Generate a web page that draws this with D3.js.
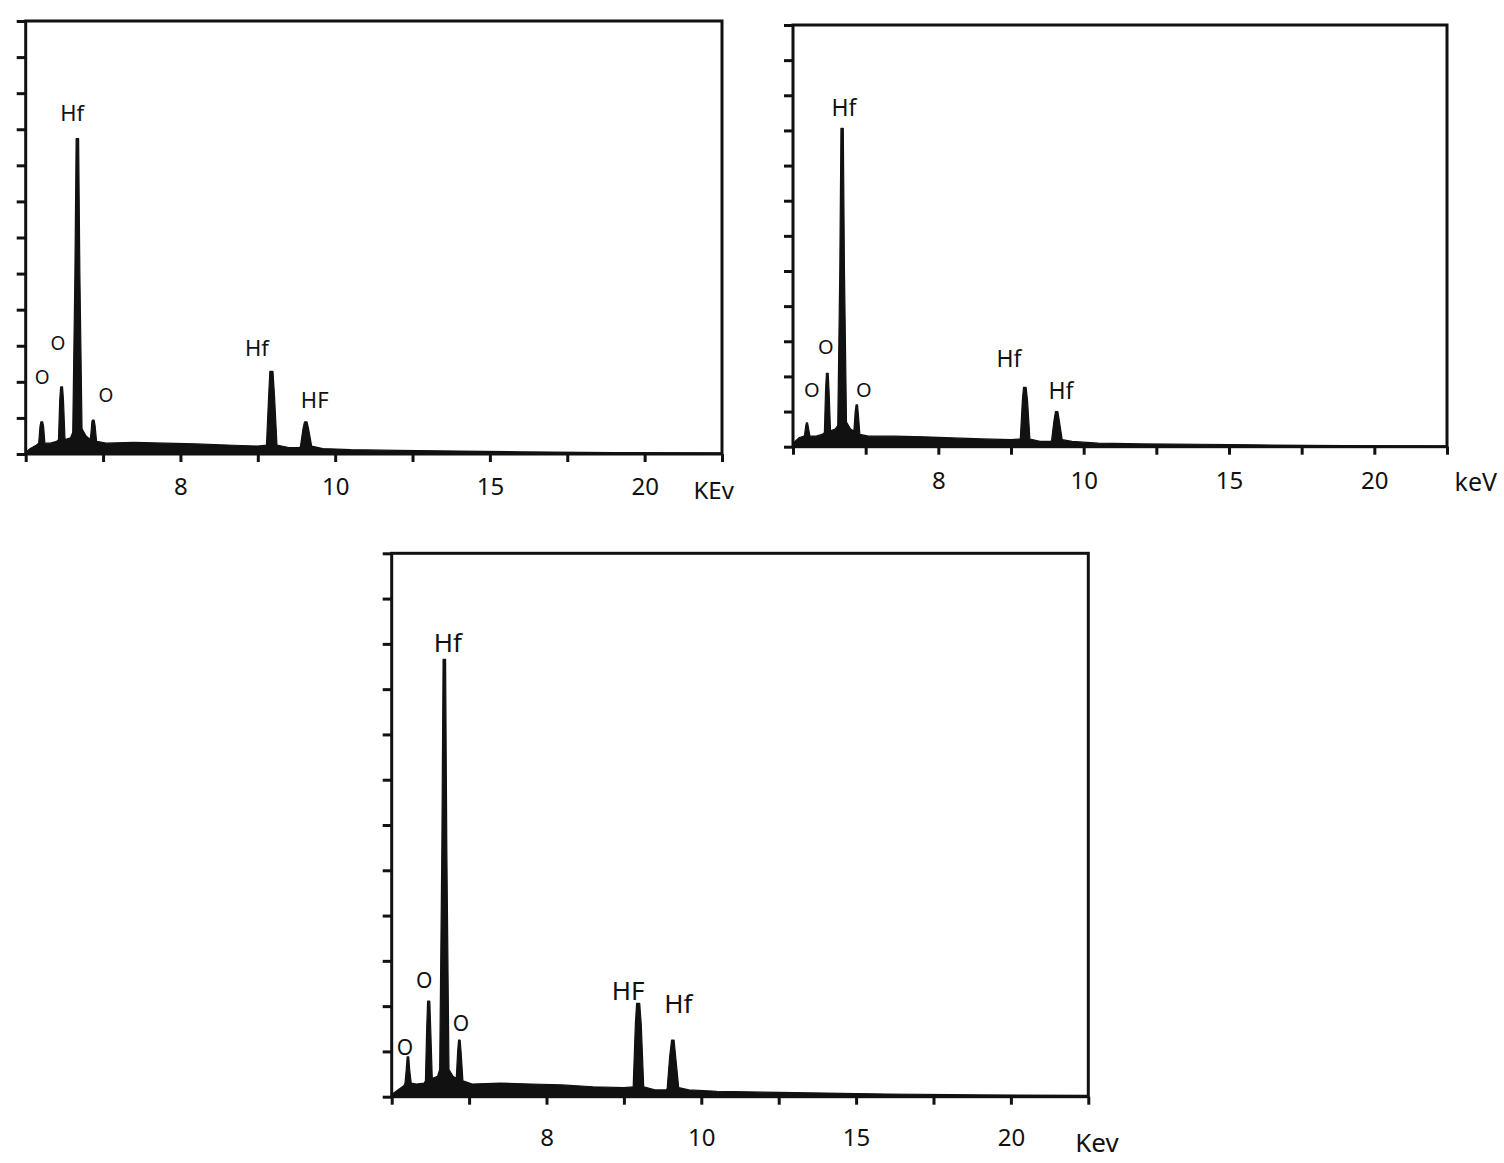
<!DOCTYPE html>
<html>
<head>
<meta charset="utf-8">
<script src="https://cdn.jsdelivr.net/npm/d3@7/dist/d3.min.js"></script>
<style>
  html, body { margin: 0; padding: 0; background: #fff; }
  svg { display: block; }
  text { font-family: "Noto Sans", "Open Sans", sans-serif; fill: #111; }
</style>
</head>
<body>
<svg id="chart" width="1504" height="1163"></svg>
<script>
// ---------------- DATA ----------------
// energy axis ticks (keV) and the tick labels printed in the figure
const energyTicks = [0, 2.5, 5, 7.5, 10, 12.5, 15, 17.5, 20, 22.5];
const labeledTickValues = [5, 10, 15, 20];
const labeledTickText = ["8", "10", "15", "20"];
const countTicks = [0, 1, 2, 3, 4, 5, 6, 7, 8, 9, 10, 11, 12];
const unitLabels = ["KEv", "keV", "Kev"];

// spectra: [energy keV, counts (tick units)]
const spectrumA = [
  [0,0.05],[0.15,0.15],[0.35,0.25],
  [0.42,0.3],[0.46,0.75],[0.49,0.89],[0.55,0.89],[0.58,0.75],[0.62,0.3],
  [0.8,0.3],[1.0,0.35],
  [1.06,0.4],[1.10,1.5],[1.13,1.86],[1.19,1.86],[1.22,1.5],[1.27,0.4],
  [1.45,0.45],
  [1.52,0.6],[1.59,5.0],[1.63,8.74],[1.71,8.74],[1.75,5.0],[1.82,0.7],
  [1.95,0.5],[2.08,0.4],
  [2.10,0.5],[2.14,0.9],[2.16,0.94],[2.21,0.94],[2.24,0.8],[2.29,0.35],
  [2.6,0.3],[3.5,0.32],[4.5,0.3],[5.5,0.28],[6.5,0.25],[7.5,0.22],
  [7.78,0.25],[7.85,1.6],[7.89,2.29],[7.99,2.29],[8.04,1.6],[8.12,0.25],
  [8.5,0.18],[8.85,0.18],
  [8.88,0.22],[8.96,0.7],[9.01,0.89],[9.09,0.89],[9.14,0.7],[9.24,0.22],
  [9.6,0.15],[10.5,0.12],[12,0.1],[14,0.08],[16,0.06],[19,0.04],[22.5,0.03]
];
const spectrumB = [
  [0,0.1],[0.2,0.25],[0.38,0.3],
  [0.40,0.35],[0.44,0.6],[0.46,0.68],[0.50,0.68],[0.53,0.55],[0.58,0.3],
  [0.8,0.3],[1.0,0.35],
  [1.08,0.4],[1.12,1.6],[1.15,2.09],[1.21,2.09],[1.24,1.6],[1.29,0.45],
  [1.45,0.5],
  [1.54,0.6],[1.61,5.0],[1.65,9.06],[1.73,9.06],[1.77,5.0],[1.84,0.7],
  [1.98,0.5],[2.08,0.45],
  [2.10,0.5],[2.14,1.0],[2.17,1.19],[2.22,1.19],[2.25,0.9],[2.30,0.35],
  [2.6,0.3],[3.5,0.3],[4.5,0.28],[5.5,0.25],[6.5,0.22],[7.5,0.2],
  [7.82,0.22],[7.89,1.3],[7.93,1.69],[8.02,1.69],[8.07,1.3],[8.15,0.22],
  [8.5,0.15],[8.88,0.15],
  [8.90,0.2],[8.98,0.75],[9.03,1.0],[9.11,1.0],[9.16,0.75],[9.26,0.2],
  [9.6,0.15],[10.5,0.1],[12,0.08],[14,0.07],[16,0.05],[19,0.03],[22.5,0.02]
];
const spectrumC = [
  [0,0.05],[0.2,0.15],[0.4,0.25],
  [0.43,0.3],[0.47,0.6],[0.50,0.88],[0.55,0.88],[0.58,0.6],[0.63,0.3],
  [0.8,0.28],[1.05,0.3],
  [1.09,0.35],[1.13,1.5],[1.16,2.11],[1.23,2.11],[1.26,1.5],[1.31,0.4],
  [1.48,0.45],
  [1.55,0.6],[1.62,5.5],[1.66,9.66],[1.74,9.66],[1.78,5.5],[1.85,0.6],
  [1.98,0.45],[2.08,0.4],
  [2.09,0.45],[2.13,1.0],[2.16,1.25],[2.21,1.25],[2.24,1.0],[2.30,0.35],
  [2.6,0.28],[3.5,0.3],[4.5,0.28],[5.5,0.26],[6.5,0.22],[7.5,0.2],
  [7.80,0.22],[7.87,1.6],[7.91,2.06],[8.01,2.06],[8.06,1.6],[8.14,0.22],
  [8.5,0.15],[8.88,0.15],
  [8.90,0.2],[8.98,0.9],[9.04,1.25],[9.12,1.25],[9.17,0.9],[9.27,0.2],
  [9.6,0.15],[10.5,0.12],[12,0.1],[14,0.08],[16,0.06],[19,0.04],[22.5,0.03]
];

// peak annotations: [text, energy keV, counts]
const peakLabelsA = [
  ["Hf",1.50,9.48],["O",1.04,3.09],["O",0.53,2.13],["O",2.59,1.63],
  ["Hf",7.47,2.96],["HF",9.34,1.52]
];
const peakLabelsB = [
  ["Hf",1.75,9.66],["O",1.13,2.84],["O",0.65,1.64],["O",2.44,1.64],
  ["Hf",7.43,2.52],["Hf",9.22,1.61]
];
const peakLabelsC = [
  ["Hf",1.81,10.04],["O",0.43,1.10],["O",1.05,2.58],["O",2.24,1.63],
  ["HF",7.64,2.36],["Hf",9.26,2.08]
];
// unit label anchor energies
const unitLabelEnergy = [22.23, 23.49, 22.78];

// ---------------- LAYOUT ----------------
const panels = [
  {spec: spectrumA, labels: peakLabelsA, unit: unitLabels[0], unitE: unitLabelEnergy[0],
   left: 25.7, right: 722, top: 21, bottom: 454, bigFont: 22, oFont: 19, tickPad: 16, unitDy: 35, unitSize: 24},
  {spec: spectrumB, labels: peakLabelsB, unit: unitLabels[1], unitE: unitLabelEnergy[1],
   left: 793, right: 1447, top: 25, bottom: 446.7, bigFont: 23, oFont: 20, tickPad: 17, unitDy: 34, unitSize: 25},
  {spec: spectrumC, labels: peakLabelsC, unit: unitLabels[2], unitE: unitLabelEnergy[2],
   left: 391.7, right: 1088.3, top: 553.3, bottom: 1096.7, bigFont: 26, oFont: 21, tickPad: 24, unitDy: 45, unitSize: 26}
];

const svg = d3.select("#chart");

panels.forEach(p => {
  const x = d3.scaleLinear().domain([0, 22.5]).range([p.left, p.right]);
  const y = d3.scaleLinear().domain([0, 12]).range([p.bottom, p.top]);
  const g = svg.append("g");

  // spectrum
  const area = d3.area()
    .x(d => x(d[0]))
    .y0(y(0))
    .y1(d => y(d[1]))
    .curve(d3.curveLinear);
  g.append("path").datum(p.spec)
    .attr("d", area)
    .attr("fill", "#111")
    .attr("stroke", "#111")
    .attr("stroke-width", 1.2)
    .attr("stroke-linejoin", "round");

  // frame
  g.append("rect")
    .attr("x", p.left).attr("y", p.top)
    .attr("width", p.right - p.left).attr("height", p.bottom - p.top)
    .attr("fill", "none").attr("stroke", "#111").attr("stroke-width", 3);

  // x axis
  const xAxis = d3.axisBottom(x)
    .tickValues(energyTicks)
    .tickSize(8)
    .tickPadding(p.tickPad)
    .tickFormat(d => {
      const i = labeledTickValues.indexOf(d);
      return i >= 0 ? labeledTickText[i] : "";
    });
  const gx = g.append("g").attr("transform", `translate(0,${y(0)})`).call(xAxis);
  gx.select(".domain").remove();
  gx.selectAll(".tick line").attr("stroke", "#111").attr("stroke-width", 3);
  gx.selectAll(".tick text")
    .style("font-family", '"Noto Sans", "Open Sans", sans-serif')
    .style("font-size", "24px").attr("fill", "#111");

  // y axis (ticks only)
  const yAxis = d3.axisLeft(y).tickValues(countTicks).tickSize(9).tickFormat("");
  const gy = g.append("g").attr("transform", `translate(${x(0)},0)`).call(yAxis);
  gy.select(".domain").remove();
  gy.selectAll(".tick line").attr("stroke", "#111").attr("stroke-width", 3);

  // peak labels
  g.selectAll("text.peak").data(p.labels).enter().append("text")
    .attr("class", "peak")
    .attr("x", d => x(d[1]))
    .attr("y", d => y(d[2]))
    .attr("text-anchor", "middle")
    .attr("dominant-baseline", "central")
    .style("font-size", d => (d[0] === "O" ? p.oFont : p.bigFont) + "px")
    .text(d => d[0]);

  // unit label
  g.append("text")
    .attr("x", x(p.unitE))
    .attr("y", y(0) + p.unitDy)
    .attr("text-anchor", "middle")
    .attr("dominant-baseline", "central")
    .style("font-size", p.unitSize + "px")
    .text(p.unit);
});
</script>
</body>
</html>
